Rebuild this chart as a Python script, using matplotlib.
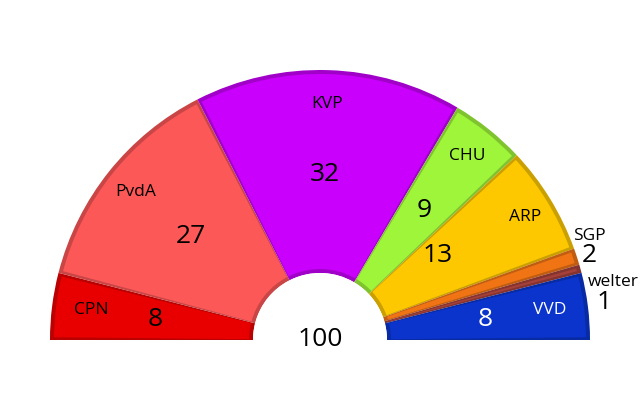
import numpy as np
import matplotlib
import matplotlib.pyplot as plt
from matplotlib.patches import Wedge, Circle
from matplotlib.colors import to_rgb

matplotlib.use('Agg')

parties = ['CPN', 'PvdA', 'KVP', 'CHU', 'ARP', 'SGP', 'welter', 'VVD']
seats = [8, 27, 32, 9, 13, 2, 1, 8]
colors = ['#e80000', '#fd5858', '#c900fb', '#9ff53a', '#fdc800', '#f07414', '#a5403a', '#0a34cc']
text_colors = ['black', 'black', 'black', 'black', 'black', 'black', 'black', 'white']
outside = ['SGP', 'welter']

# layout in pixels (figure is 640x420, y up)
cx, cy = 320, 80
r_out, r_in = 270, 67
# nudges for labels that sit outside the arc (name dx, dy, number dx, dy)
nudge = {'SGP': (-8, 19, 0, 0), 'welter': (3, -15, 11, -35)}
# small shifts of inside labels (name dx, dy, number dx, dy)
shift = {'CPN': (5, 0, 0, 0), 'ARP': (4, 0, -24, -2), 'VVD': (-4, 0, 0, 0)}


def darker(c, f=0.8):
    return tuple(v * f for v in to_rgb(c))


fig = plt.figure(figsize=(6.4, 4.2), dpi=100)
ax = fig.add_axes([0, 0, 1, 1])
ax.set_xlim(0, 640)
ax.set_ylim(0, 420)
ax.set_aspect('equal')
ax.axis('off')

total = sum(seats)
edges = 180 - np.cumsum([0] + seats) * 180.0 / total

for i, p in enumerate(parties):
    t1, t2 = edges[i + 1], edges[i]
    # darker rim to fake the bevel
    ax.add_patch(Wedge((cx, cy), r_out, t1, t2, width=r_out - r_in,
                       facecolor=darker(colors[i]), edgecolor='none'))
    ax.add_patch(Wedge((cx, cy), r_out - 4, t1 + 0.6, t2 - 0.6, width=r_out - r_in - 8,
                       facecolor=colors[i], edgecolor='none'))

    mid = np.radians((t1 + t2) / 2)
    if p in outside:
        nx, ny, mx, my = nudge[p]
        x0 = cx + 275 * np.cos(mid)
        y0 = cy + 275 * np.sin(mid)
        ax.text(x0 + nx, y0 + ny, p, ha='left', va='center', fontsize=12.5,
                family='Open Sans', color=text_colors[i])
        ax.text(x0 + mx, y0 + my, str(seats[i]), ha='left', va='center', fontsize=19,
                family='Open Sans', color=text_colors[i])
    else:
        nx, ny, mx, my = shift.get(p, (0, 0, 0, 0))
        ax.text(cx + 236 * np.cos(mid) + nx, cy + 236 * np.sin(mid) + ny, p,
                ha='center', va='center', fontsize=12.5, family='Open Sans',
                color=text_colors[i])
        ax.text(cx + 166 * np.cos(mid) + mx, cy + 166 * np.sin(mid) + my, str(seats[i]),
                ha='center', va='center', fontsize=19, family='Open Sans',
                color=text_colors[i])

ax.add_patch(Circle((cx, cy), r_in, facecolor='white', edgecolor='none'))
ax.text(cx, cy, str(total), ha='center', va='center', fontsize=19, family='Open Sans')

fig.savefig('out.png', dpi=100)
